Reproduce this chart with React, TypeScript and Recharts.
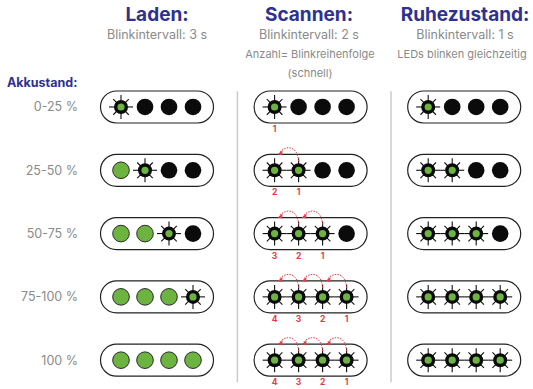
import { ScatterChart, Scatter, XAxis, YAxis, ReferenceLine } from 'recharts';

// rows of the diagram (battery level)
const levels = ['0-25 %', '25-50 %', '50-75 %', '75-100 %', '100 %'];

// modes (columns)
const modes = ['Laden', 'Scannen', 'Ruhezustand'];
const intervals = ['Blinkintervall: 3 s', 'Blinkintervall: 2 s', 'Blinkintervall: 1 s'];

// LED states per row: G = on (green), B = blinking, 0 = off
const ladenLeds = ['B000', 'GB00', 'GGB0', 'GGGB', 'GGGG'];
const scanLeds = ['B000', 'BB00', 'BBB0', 'BBBB', 'BBBB'];
const restLeds = ['B000', 'BB00', 'BBB0', 'BBBB', 'BBBB'];

// blink order numbers under the scanning LEDs
const scanOrder = [[1], [2, 1], [3, 2, 1], [4, 3, 2, 1], [4, 3, 2, 1]];

const NAVY = '#2e3190';
const GRAY = '#8a8a8a';
const GREEN = '#6db33f';
const RED = '#e63946';
const FONT = 'Inter, "Open Sans", sans-serif';

const LED_PX = 24; // px per LED slot
const COL_STEP = 6.4; // column offset in LED slots
const X_MIN = -1.4583;
const X_MAX = X_MIN + 447 / LED_PX;
const Y_MIN = -1.69;
const Y_MAX = Y_MIN + 389 / 63.3;

const ledSets = [ladenLeds, scanLeds, restLeds];

const pillData = modes.flatMap((_, c) => levels.map((_, r) => ({ x: c * COL_STEP + 1.5, y: r })));
const ledData = ledSets.flatMap((set, c) =>
  set.flatMap((s, r) => s.split('').map((st, j) => ({ x: c * COL_STEP + j, y: r, st })))
);
const orderData = scanOrder.flatMap((nums, r) =>
  nums.map((n, j) => ({ x: COL_STEP + j, y: r, n }))
);
const arrowData = scanOrder.flatMap((nums, r) =>
  nums.slice(1).map((_, k) => ({ x: COL_STEP + k + 1, y: r }))
);

function Pill(p: any) {
  const { cx, cy } = p;
  return <rect x={cx - 56.5} y={cy - 16} width={113} height={32} rx={16} fill="#fff" stroke="#222" strokeWidth={1.2} />;
}

function Led(p: any) {
  const { cx, cy, payload } = p;
  if (payload.st === '0') return <circle cx={cx} cy={cy} r={8.3} fill="#0b0b0b" />;
  if (payload.st === 'G') return <circle cx={cx} cy={cy} r={8.3} fill={GREEN} stroke="#2a2a2a" strokeWidth={1} />;
  const spikes = [0, 45, 90, 135, 180, 225, 270, 315].map((a) => {
    const rad = (a * Math.PI) / 180;
    const len = a % 90 === 0 ? 12 : 11;
    return (
      <line key={a} x1={cx} y1={cy} x2={cx + Math.cos(rad) * len} y2={cy + Math.sin(rad) * len} stroke="#111" strokeWidth={1.1} />
    );
  });
  return (
    <g>
      {spikes}
      <circle cx={cx} cy={cy} r={7} fill="#0b0b0b" />
      <circle cx={cx} cy={cy} r={3.6} fill={GREEN} />
    </g>
  );
}

function OrderNum(p: any) {
  const { cx, cy, payload } = p;
  return (
    <text x={cx} y={cy + 25} textAnchor="middle" fill={RED} fontSize={8.5} fontWeight={700} fontFamily={FONT}>
      {payload.n}
    </text>
  );
}

function Arrow(p: any) {
  const { cx, cy } = p;
  const ex = cx - LED_PX + 3;
  const ey = cy - 17;
  return (
    <g>
      <path
        d={`M${cx},${cy - 9} C${cx - 1},${cy - 25} ${cx - 13},${cy - 25} ${ex + 2},${ey - 1}`}
        fill="none"
        stroke={RED}
        strokeWidth={1}
        strokeDasharray="1.5 1.2"
      />
      <polygon points={`${ex},${ey + 1} ${ex + 5},${ey - 3} ${ex + 4.5},${ey + 2}`} fill={RED} />
    </g>
  );
}

const label = (text: string, x: number, y: number, size: number, bold: boolean, color: string) => (
  <div
    key={text + x}
    style={{
      position: 'absolute',
      left: x,
      top: y,
      transform: 'translate(-50%, -50%)',
      fontSize: size,
      fontWeight: bold ? 700 : 400,
      color,
      fontFamily: FONT,
      whiteSpace: 'nowrap',
      lineHeight: 1,
    }}
  >
    {text}
  </div>
);

export default function App() {
  const centers = [157, 309, 465];
  return (
    <div style={{ position: 'relative', width: 533, height: 389, background: '#fff' }}>
      <style>{'body{margin:0}'}</style>
      <ScatterChart width={533} height={389} margin={{ top: 0, right: 0, bottom: 0, left: 0 }}>
        <XAxis type="number" dataKey="x" hide domain={[X_MIN, X_MAX]} allowDataOverflow />
        <YAxis
          type="number"
          dataKey="y"
          reversed
          domain={[Y_MIN, Y_MAX]}
          allowDataOverflow
          ticks={[0, 1, 2, 3, 4]}
          interval={0}
          tickFormatter={(v: number) => levels[v] ?? ''}
          width={86}
          axisLine={false}
          tickLine={false}
          tick={{ fill: GRAY, fontSize: 12.5, fontFamily: FONT }}
        />
        {[1, 2].map((c) => (
          <ReferenceLine
            key={c}
            segment={[
              { x: c * COL_STEP - 1.55, y: -0.25 },
              { x: c * COL_STEP - 1.55, y: 4.35 },
            ]}
            stroke="#cccccc"
            strokeWidth={1.5}
          />
        ))}
        <Scatter data={pillData} shape={Pill} isAnimationActive={false} />
        <Scatter data={ledData} shape={Led} isAnimationActive={false} />
        <Scatter data={arrowData} shape={Arrow} isAnimationActive={false} />
        <Scatter data={orderData} shape={OrderNum} isAnimationActive={false} />
      </ScatterChart>
      {modes.map((m, i) => label(m + ':', centers[i], 14, 19, true, NAVY))}
      {intervals.map((t, i) => label(t, centers[i], 35, 12.5, false, GRAY))}
      {label('Anzahl= Blinkreihenfolge', 310, 54, 11, false, GRAY)}
      {label('(schnell)', 310, 73, 11, false, GRAY)}
      {label('LEDs blinken gleichzeitig', 462, 54, 11, false, GRAY)}
      <div
        style={{
          position: 'absolute',
          left: 7,
          top: 77,
          fontSize: 12.5,
          fontWeight: 700,
          color: NAVY,
          fontFamily: FONT,
          lineHeight: 1,
        }}
      >
        Akkustand:
      </div>
    </div>
  );
}
